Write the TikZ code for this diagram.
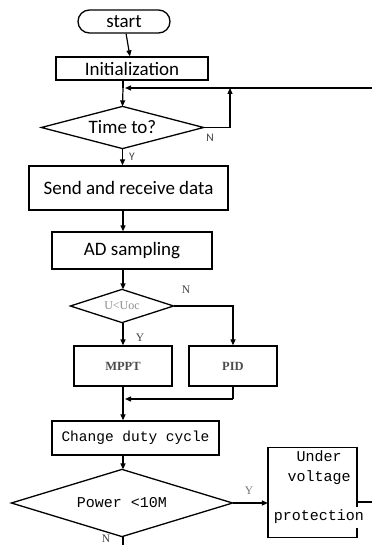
\documentclass[tikz,border=0pt]{standalone}
\usepackage{fontspec}
\setmainfont{Liberation Serif}
\newfontfamily\calfont{Carlito}
\newfontfamily\monofont{Liberation Mono}
\usetikzlibrary{arrows.meta}
\begin{document}
\begin{tikzpicture}[x=1pt,y=-1pt,
  line width=1.2pt,
  arr/.style={-{Triangle[length=6pt,width=5pt]}},
  box/.style={draw,rectangle,inner sep=0pt,line width=1.3pt},
  dia/.style={rectangle,inner sep=0pt},
  dialine/.style={line width=1.3pt,line join=miter},
  calt/.style={font=\calfont\fontsize{19}{21}\selectfont},
  mono/.style={font=\monofont\fontsize{15}{19.5}\selectfont},
  sertxt/.style={font=\bfseries\fontsize{12.5}{14}\selectfont},
  lbl/.style={inner sep=0pt,font=\fontsize{11.5}{13}\selectfont,text=black!75}]
\useasboundingbox (0,0) rectangle (372,545);
% nodes
\node[box,rounded corners=11.5pt,minimum width=92pt,minimum height=23pt,calt] (start) at (124,21.5) {start};
\node[box,minimum width=152pt,minimum height=23pt,calt] (init) at (132,68.5) {Initialization};
\coordinate (j1) at (123,88);
\node[dia,minimum width=161pt,minimum height=41pt,calt] (time) at (122.5,127.5) {Time to?};
\node[box,minimum width=199pt,minimum height=44pt,calt] (send) at (128.5,188) {Send and receive data};
\node[box,minimum width=160pt,minimum height=37pt,calt] (ad) at (132,250.5) {AD sampling};
\node[dia,minimum width=102pt,minimum height=32pt,font=\fontsize{12}{13}\selectfont,text=black!45] (uoc) at (122,306) {U<Uoc};
\node[box,minimum width=98pt,minimum height=40pt,sertxt,text=black!70] (mppt) at (123,366) {MPPT};
\node[box,minimum width=88pt,minimum height=40pt,sertxt,text=black!70] (pid) at (233,366) {PID};
\node[box,minimum width=167pt,minimum height=34pt,font=\monofont\fontsize{14.5}{17}\selectfont] (change) at (135.5,438) {Change duty cycle};
\node[dia,minimum width=220pt,minimum height=66pt,mono] (power) at (122,503) {Power <10M};
\node[rectangle,inner sep=0pt,minimum width=88pt,minimum height=89pt] (prot) at (312.5,492.5) {};
\node[mono,align=center,inner sep=0pt] (prottxt) at (319,487) {Under\\voltage\\ \\protection};
% diamonds
\foreach \d in {time,uoc,power}
  \draw[dialine] (\d.west) -- (\d.north) -- (\d.east) -- (\d.south) -- cycle;
% protection box outline (right edge partly hidden)
\draw[line width=1.3pt] (prot.east) ++(0,14) -- (prot.north east) -- (prot.north west) -- (prot.south west) -- (prot.south east) -- ++(0,-10);
\coordinate (rt) at (372,502);
\coordinate (loopR) at (372,88);
\coordinate (c1) at (230,88);
\coordinate (m1) at (123,399);
\coordinate (pdn) at (233,399);
\coordinate (pend) at (123,545);
% connectors
\draw[arr] (start) -- (init);
\draw (init.south -| j1) -- (j1);
\draw[arr] (j1) -- (time.north);
\draw[arr] (loopR) -- ([xshift=2pt]j1);
\draw[arr] (time.east) -| (c1);
\draw[arr] (time.south) -- (send.north -| time.south);
\draw[arr] (send.south -| j1) -- (ad.north -| j1);
\draw[arr] (ad.south -| j1) -- (uoc.north -| j1);
\draw[arr] (uoc.east) -| (pid.north);
\draw[arr] (uoc.south -| mppt.south) -- (mppt.north);
\draw[arr] (mppt.south) -- (change.north -| mppt.south);
\draw (pid.south) -- (pdn);
\draw[arr] (pdn) -- ([xshift=2pt]m1);
\draw[arr] (change.south -| mppt.south) -- (power.north -| mppt.south);
\draw[arr] (power.east) -- (power.east -| prot.west);
\draw (prot.east |- rt) -- (rt);
\draw (power.south -| mppt.south) -- (pend);
% labels
\node[lbl,font=\calfont\fontsize{11.5}{13}\selectfont] (ltn) at (210,138) {N};
\node[lbl,font=\calfont\fontsize{11.5}{13}\selectfont] (lty) at (132,157) {Y};
\node[lbl] (lun) at (186,290) {N};
\node[lbl] (luy) at (140,338) {Y};
\node[lbl,text=black!55] (lpy) at (249,491) {Y};
\node[lbl] (lpn) at (106,539) {N};
\end{tikzpicture}
\end{document}
